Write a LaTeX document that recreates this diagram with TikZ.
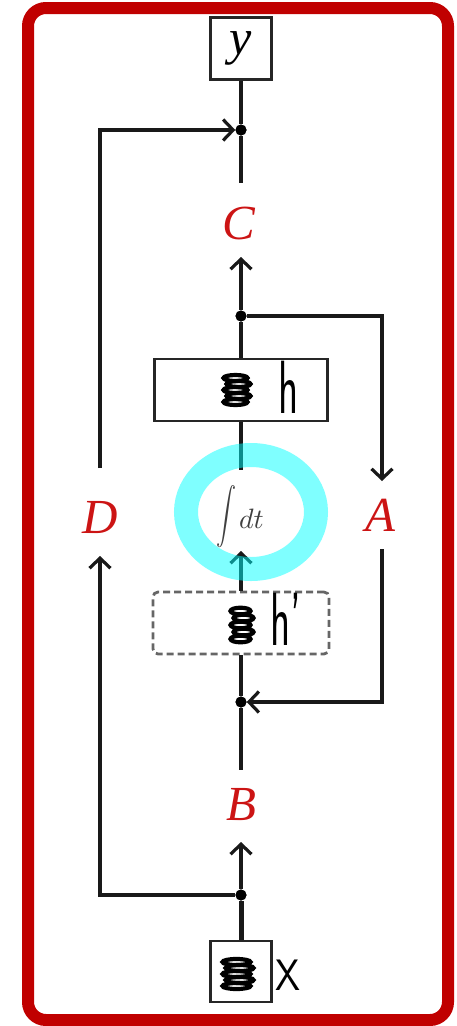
\documentclass[tikz,border=0pt]{standalone}
\usepackage{fontspec}
\usetikzlibrary{arrows.meta}
\newfontfamily\lblfont{Liberation Serif}
\definecolor{bred}{RGB}{192,0,0}
\definecolor{lred}{RGB}{204,20,20}
\definecolor{hicyan}{RGB}{0,255,255}
\begin{document}
\begin{tikzpicture}[x=1pt,y=-1pt,
  conn/.style={line width=3.2pt, draw=black!90},
  thickconn/.style={line width=5pt, draw=black!90},
  tip/.style={-{Straight Barb[length=10pt,width=21pt,line width=3.2pt]}},
  dot/.style={circle, fill=black, inner sep=0pt, minimum size=11pt},
  lbl/.style={text=lred, inner sep=0pt, font=\lblfont\itshape\fontsize{49}{51}\selectfont},
  box/.style={draw=black!85, line width=2.8pt, inner sep=0pt},
  dbox/.style={draw=black!60, line width=2.8pt, dash pattern=on 7pt off 4pt, rounded corners=5pt, inner sep=0pt},
  hand/.style={inner sep=0pt, text=black},
  scrib/.style={line width=4.2pt, draw=black},
  hilite/.style={draw=hicyan, opacity=0.5, line width=24pt}
]
\useasboundingbox (0,0) rectangle (457,1026);
% red frame
\draw[bred, line width=12pt, rounded corners=18pt] (28,8) rectangle (448,1020);

% boxes
\node[box, minimum width=61pt, minimum height=62pt] (ybox) at (241,48.5) {\raisebox{4pt}{\lblfont\itshape\fontsize{50}{52}\selectfont y}};
\node[box, minimum width=173pt, minimum height=62pt] (hbox) at (241,390) {};
\node[dbox, minimum width=176pt, minimum height=62pt] (hpbox) at (241,623) {};
\node[box, minimum width=61pt, minimum height=61pt] (xbox) at (241,971.5) {};

% labels
\node[lbl] (C) at (239,223) {C};
\node[lbl] (D) at (100,517) {D};
\node[lbl] (A) at (380,515) {A};
\node[lbl] (B) at (241,805) {B};
\node[inner sep=0pt, text=black!75] (int) at (240,517) {\scalebox{2}[2.8]{$\displaystyle\int$}\hspace{3pt}\raisebox{-4pt}{\scalebox{2.8}{$dt$}}};

% junctions and free ends
\node[dot] (jtop) at (241,130) {};
\node[dot] (j2) at (241,316) {};
\node[dot] (j3) at (241,702) {};
\node[dot] (j4) at (241,895) {};
\coordinate (ctop) at (241,183);
\coordinate (ctip) at (241,257);
\coordinate (inttop) at (241,470);
\coordinate (inttip) at (241,551);
\coordinate (btop) at (241,770);
\coordinate (btip) at (241,842);
\coordinate (dtip) at (100,556);
\coordinate (dtop) at (100,468);
\coordinate (atip) at (382,481);
\coordinate (abot) at (382,549);

% main spine
\draw[conn] (ybox.south) -- (jtop);
\draw[conn] (jtop) -- (ctop);
\draw[conn, tip] (j2) -- (ctip);
\draw[conn] (hbox.north) -- (j2);
\draw[conn] (hbox.south) -- (inttop);
\draw[conn, tip] (hpbox.north) -- (inttip);
\draw[conn] (hpbox.south) -- (j3);
\draw[conn] (j3) -- (btop);
\draw[conn, tip] (j4) -- (btip);
\draw[thickconn] (xbox.north) -- (j4);

% left loop
\draw[conn, tip] (j4) -| (dtip);
\draw[conn, tip] (dtop) |- (jtop.west);
% right loop
\draw[conn, tip] (j2) -| (atip);
\draw[conn, tip] (abot) |- (j3.east);

% redraw dots on top
\fill (jtop) circle (5.5pt);
\fill (j2) circle (5.5pt);
\fill (j3) circle (5.5pt);
\fill (j4) circle (5.5pt);

% handwriting
\node[hand] (htext) at (289,387) {\scalebox{0.8}[1.45]{\fontsize{52}{54}\selectfont\sffamily h}};
\node[hand] (hptext) at (286,619) {\scalebox{0.8}[1.45]{\fontsize{52}{54}\selectfont\sffamily h'}};
\node[hand] (xtext) at (288,975) {\scalebox{1}[1.1]{\fontsize{40}{42}\selectfont\sffamily X}};

% scribbles
\foreach \k in {0,1,2,3,4} {
  \draw[scrib] ({237+(mod(\k,2)-0.5)*3},{378+6*\k}) ellipse [x radius=12, y radius=3];
  \draw[scrib] ({242+(mod(\k,2)-0.5)*3},{611+7*\k}) ellipse [x radius=10, y radius=3.3];
  \draw[scrib] ({238+(mod(\k,2)-0.5)*3},{962+6*\k}) ellipse [x radius=14, y radius=3];
}

% cyan highlight
\draw[hilite] (251,512) ellipse [x radius=65, y radius=57];
\end{tikzpicture}
\end{document}
